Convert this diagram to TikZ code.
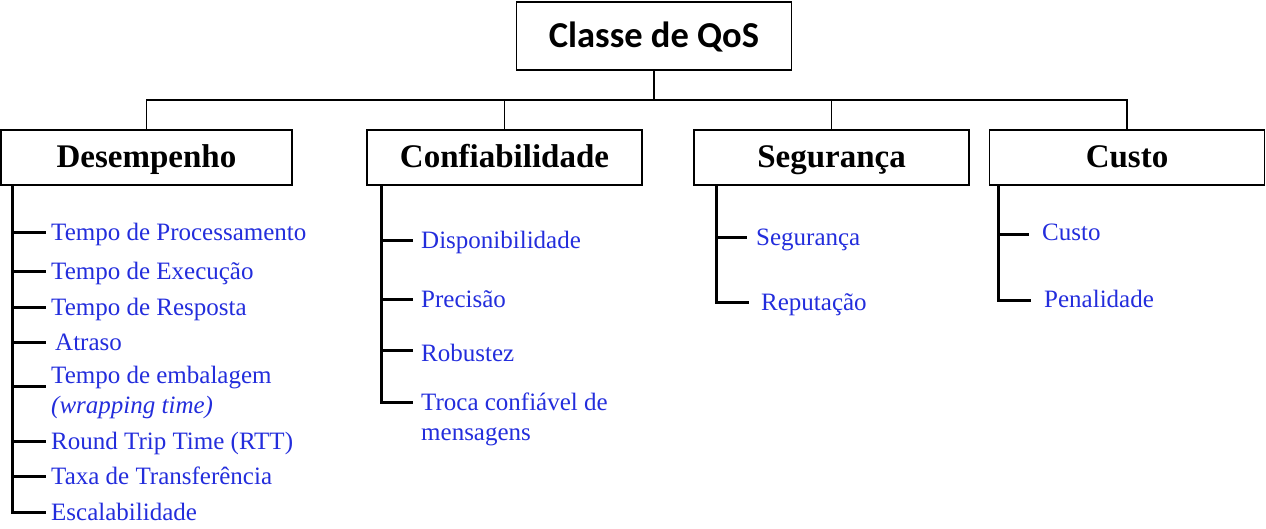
\documentclass[tikz,border=0pt]{standalone}
\usepackage{fontspec}
\setmainfont{Liberation Serif}
\newfontfamily\carlito{Carlito}
\definecolor{itemblue}{RGB}{35,45,220}
\begin{document}
\begin{tikzpicture}[x=1pt,y=-1pt,
  conn/.style={line width=1.1pt,draw=black},
  treeline/.style={line width=3pt,draw=black},
  topbox/.style={draw,line width=1.1pt,minimum width=275pt,minimum height=68pt,inner sep=0pt,
     text height=28pt,text depth=6pt,
     font=\carlito\bfseries\fontsize{36.5}{42}\selectfont},
  catbox/.style={draw,line width=1.1pt,minimum width=275pt,minimum height=55pt,inner sep=0pt,
     text height=24pt,text depth=5pt,
     font=\bfseries\fontsize{33}{39}\selectfont},
  item/.style={anchor=base west,inner sep=0pt,text=itemblue,font=\fontsize{25}{30}\selectfont},
]
\useasboundingbox (0,0) rectangle (1266,528);

\node[topbox] (top) at (654,36) {Classe de QoS};
\node[catbox,minimum width=291pt] (des) at (146.5,157.5) {Desempenho};
\node[catbox] (con) at (504.5,157.5) {Confiabilidade};
\node[catbox] (seg) at (831.5,157.5) {Segurança};
\node[catbox,minimum width=275pt] (cus) at (1127,157.5) {Custo};

\coordinate (bus) at (654,100);
\draw[conn] (top.south) -- (bus);
\draw[conn] (des.north) |- (bus);
\draw[conn] (con.north) |- (bus);
\draw[conn] (seg.north) |- (bus);
\draw[conn] (cus.north) |- (bus);

% Desempenho (base lines = tick + 7)
\node[item] (d1) at (51,240) {Tempo de Processamento};
\node[item] (d2) at (51,279) {Tempo de Execução};
\node[item] (d3) at (51,315) {Tempo de Resposta};
\node[item] (d4) at (55,350) {Atraso};
\node[item] (d5) at (51,383) {\begin{tabular}[t]{@{}l@{}}Tempo de embalagem\\\textit{(wrapping time)}\end{tabular}};
\node[item] (d6) at (51,449) {Round Trip Time (RTT)};
\node[item] (d7) at (51,484) {Taxa de Transferência};
\node[item] (d8) at (51,520) {Escalabilidade};
\coordinate (dv) at (12,185);
\draw[treeline] (dv) |- (46,512);
\foreach \y in {232,271,307,342,386,441,476}{\draw[treeline] (12,\y) -- (46,\y);}

% Confiabilidade
\node[item] (c1) at (421,248) {Disponibilidade};
\node[item] (c2) at (421,307) {Precisão};
\node[item] (c3) at (421,361) {Robustez};
\node[item] (c4) at (421,410) {\begin{tabular}[t]{@{}l@{}}Troca confiável de\\mensagens\end{tabular}};
\coordinate (cv) at (381,185);
\draw[treeline] (cv) |- (413,402);
\foreach \y in {240,299,350}{\draw[treeline] (381,\y) -- (413,\y);}

% Segurança
\node[item] (s1) at (756,245) {Segurança};
\node[item] (s2) at (761,310) {Reputação};
\coordinate (sv) at (716,185);
\draw[treeline] (sv) |- (749,302);
\draw[treeline] (716,237) -- (747,237);

% Custo
\node[item] (k1) at (1042,240) {Custo};
\node[item] (k2) at (1044,307) {Penalidade};
\coordinate (kv) at (998,185);
\draw[treeline] (kv) |- (1031,300);
\draw[treeline] (998,234) -- (1029,234);
\end{tikzpicture}
\end{document}
